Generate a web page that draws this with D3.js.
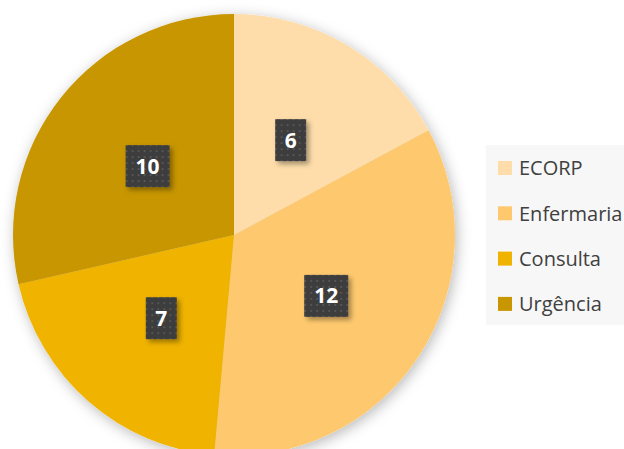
<!DOCTYPE html>
<html>
<head>
<meta charset="UTF-8">
<title>Pie</title>
<script src="https://cdnjs.cloudflare.com/ajax/libs/d3/7.8.5/d3.min.js"></script>
<style>
html, body { margin: 0; padding: 0; background: #ffffff; overflow: hidden; }
svg { display: block; }
</style>
</head>
<body>
<script>
// data
var categories = ["ECORP", "Enfermaria", "Consulta", "Urgência"];
var values = [6, 12, 7, 10];
var colors = ["#FEDDAA", "#FEC96E", "#EFB300", "#C79600"];

var width = 624,
    height = 449;

var cx = 234, cy = 235, radius = 221;

var svg = d3.select("body").append("svg")
    .attr("width", width)
    .attr("height", height);

var defs = svg.append("defs");

// soft shadow round the pie
var shadow = defs.append("filter")
    .attr("id", "pieShadow")
    .attr("x", "-20%").attr("y", "-20%")
    .attr("width", "140%").attr("height", "140%");
shadow.append("feDropShadow")
    .attr("dx", 2).attr("dy", 3)
    .attr("stdDeviation", 7)
    .attr("flood-color", "#000")
    .attr("flood-opacity", 0.28);

var boxShadow = defs.append("filter")
    .attr("id", "boxShadow")
    .attr("x", "-30%").attr("y", "-30%")
    .attr("width", "170%").attr("height", "170%");
boxShadow.append("feDropShadow")
    .attr("dx", 3).attr("dy", 3)
    .attr("stdDeviation", 2.5)
    .attr("flood-color", "#000")
    .attr("flood-opacity", 0.35);

// dotted dark fill for the data labels
var pat = defs.append("pattern")
    .attr("id", "dots")
    .attr("width", 6).attr("height", 6)
    .attr("patternUnits", "userSpaceOnUse");
pat.append("rect").attr("width", 6).attr("height", 6).attr("fill", "#3c3c3c");
pat.append("rect").attr("x", 2).attr("y", 2).attr("width", 2).attr("height", 2)
    .attr("fill", "#555555");

var pie = d3.pie().sort(null).value(function (d) { return d; });
var arcs = pie(values);

var arc = d3.arc().innerRadius(0).outerRadius(radius);

var g = svg.append("g")
    .attr("transform", "translate(" + cx + "," + cy + ")");

g.append("g")
    .attr("filter", "url(#pieShadow)")
    .selectAll("path")
    .data(arcs)
    .enter()
    .append("path")
    .attr("d", arc)
    .attr("fill", function (d, i) { return colors[i]; });

// labels
var lab = g.selectAll("g.lab")
    .data(arcs)
    .enter()
    .append("g")
    .attr("class", "lab")
    .attr("transform", function (d) {
        var c = arc.centroid(d);
        return "translate(" + c[0] + "," + c[1] + ")";
    });

lab.append("rect")
    .attr("x", function (d) { return String(d.data).length > 1 ? -22 : -15.5; })
    .attr("y", -21)
    .attr("width", function (d) { return String(d.data).length > 1 ? 44 : 31; })
    .attr("height", 42)
    .attr("fill", "url(#dots)")
    .attr("filter", "url(#boxShadow)");

lab.append("text")
    .attr("text-anchor", "middle")
    .attr("dy", "0.36em")
    .attr("font-family", "'Noto Sans', 'Open Sans', sans-serif")
    .attr("font-weight", "bold")
    .attr("font-size", 21)
    .attr("fill", "#ffffff")
    .text(function (d) { return d.data; });

// legend
var legend = svg.append("g");
legend.append("rect")
    .attr("x", 486).attr("y", 145)
    .attr("width", 150).attr("height", 180)
    .attr("fill", "#f7f7f7");

var row = legend.selectAll("g.item")
    .data(categories)
    .enter()
    .append("g")
    .attr("class", "item")
    .attr("transform", function (d, i) { return "translate(498," + (168 + i * 45.3) + ")"; });

row.append("rect")
    .attr("x", 0).attr("y", -7)
    .attr("width", 14).attr("height", 14)
    .attr("fill", function (d, i) { return colors[i]; });

row.append("text")
    .attr("x", 21)
    .attr("dy", "0.36em")
    .attr("font-family", "'Open Sans', 'Noto Sans', sans-serif")
    .attr("font-size", 20)
    .attr("fill", "#404040")
    .text(function (d) { return d; });
</script>
</body>
</html>
